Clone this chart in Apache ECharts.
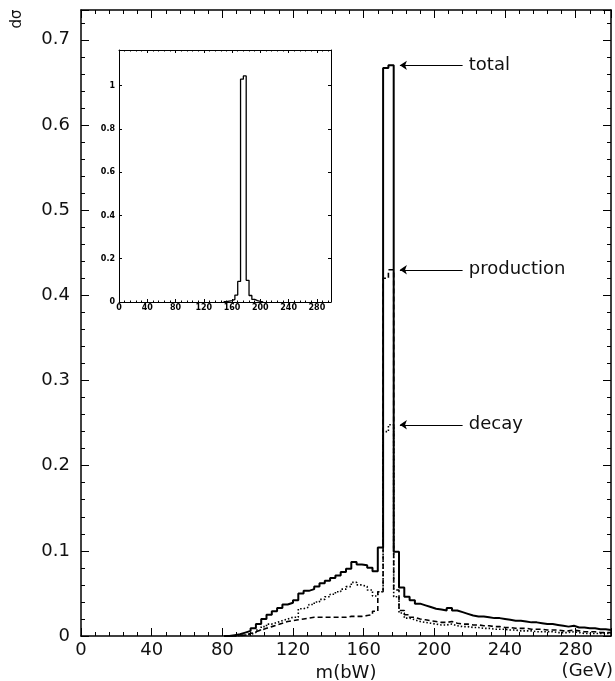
<!DOCTYPE html>
<html><head><meta charset="utf-8">
<script src="https://cdn.jsdelivr.net/npm/echarts@6/dist/echarts.min.js"></script>
<style>html,body{margin:0;padding:0;background:#fff;overflow:hidden}#c{width:615px;height:681px}</style>
</head><body><div id="c"></div>
<script>
// ---- main histogram: 3 GeV bins, lower edges (GeV)
const binEdges = [81,84,87,90,93,96,99,102,105,108,111,114,117,120,123,126,129,132,135,138,
  141,144,147,150,153,156,159,162,165,168,171,174,177,180,183,186,189,192,195,198,
  201,204,207,210,213,216,219,222,225,228,231,234,237,240,243,246,249,252,255,258,
  261,264,267,270,273,276,279,282,285,288,291,294,297];
const binWidth = 3;
const totalValues = [0,0.001,0.002,0.004,0.006,0.009,0.014,0.020,0.025,0.029,0.033,0.037,0.039,0.042,0.050,0.053,0.055,0.058,0.062,0.065,
  0.068,0.071,0.075,0.079,0.087,0.084,0.083,0.080,0.076,0.104,0.667,0.670,0.099,0.057,0.046,0.042,0.038,0.036,0.034,0.032,
  0.031,0.030,0.033,0.030,0.028,0.026,0.024,0.023,0.023,0.022,0.021,0.021,0.020,0.019,0.018,0.018,0.017,0.016,0.016,0.015,
  0.014,0.014,0.013,0.012,0.011,0.012,0.010,0.010,0.009,0.009,0.008,0.008,0.007];
const productionValues = [0,0,0.0005,0.001,0.003,0.005,0.007,0.009,0.011,0.013,0.015,0.017,0.018,0.019,0.020,0.021,0.022,0.022,0.022,0.022,
  0.022,0.022,0.022,0.023,0.023,0.023,0.024,0.025,0.029,0.052,0.420,0.430,0.054,0.030,0.025,0.022,0.020,0.019,0.018,0.017,
  0.016,0.016,0.017,0.015,0.014,0.014,0.013,0.013,0.012,0.012,0.011,0.011,0.010,0.010,0.009,0.009,0.009,0.008,0.008,0.008,
  0.007,0.007,0.007,0.006,0.006,0.007,0.006,0.005,0.005,0.005,0.004,0.004,0.004];
const decayValues = [0,0,0.0005,0.001,0.002,0.004,0.007,0.011,0.014,0.016,0.018,0.020,0.022,0.022,0.032,0.034,0.037,0.040,0.043,0.046,
  0.049,0.052,0.055,0.058,0.063,0.060,0.058,0.054,0.047,0.052,0.240,0.248,0.046,0.027,0.021,0.019,0.017,0.016,0.015,0.014,
  0.013,0.013,0.014,0.012,0.011,0.011,0.010,0.010,0.009,0.009,0.008,0.008,0.008,0.007,0.007,0.006,0.006,0.006,0.005,0.005,
  0.005,0.005,0.004,0.004,0.004,0.005,0.004,0.003,0.003,0.003,0.003,0.003,0.003];

// ---- inset histogram: 4 GeV bins
const insetEdges = [148,152,156,160,164,168,172,176,180,184,188,192,196,200];
const insetWidth = 4;
const insetTotal = [0.002,0.004,0.006,0.012,0.032,0.095,1.03,1.045,0.10,0.03,0.012,0.006,0.003,0.001];

// ---- annotations
const annotLabels = ['total','production','decay'];
const annotValues = [0.670, 0.430, 0.248];
const arrowFrom = 216, arrowTo = 180.5, annotTextX = 219.5;

function steps(edges, vals, w) {
  const pts = edges.map((e, i) => [e, vals[i]]);
  pts.push([edges[edges.length - 1] + w, vals[vals.length - 1]]);
  return pts;
}

const FONT = 'DejaVu Sans';
const BLK = '#000';
const chart = echarts.init(document.getElementById('c'), null, {renderer: 'canvas'});

function mainX(pos, labels) {
  return {
    type: 'value', gridIndex: 0, position: pos, min: 0, max: 300, interval: 40, z: 3,
    axisLine: {show: true, onZero: false, lineStyle: {color: BLK, width: 1.5}},
    axisTick: {show: true, inside: true, length: 8, lineStyle: {color: BLK, width: 1}},
    minorTick: {show: true, splitNumber: 5, length: 4, lineStyle: {color: BLK, width: 1}},
    splitLine: {show: false}, minorSplitLine: {show: false},
    axisLabel: {show: labels, margin: 5, fontFamily: FONT, fontSize: 18, color: '#111', showMaxLabel: false},
    name: labels ? 'm(bW)' : '', nameLocation: 'middle', nameGap: 27,
    nameTextStyle: {fontFamily: FONT, fontSize: 18, color: '#111'}
  };
}
function mainY(pos, labels) {
  return {
    type: 'value', gridIndex: 0, position: pos, min: 0, max: 0.735, interval: 0.1, z: 3,
    axisLine: {show: true, onZero: false, lineStyle: {color: BLK, width: 1.5}},
    axisTick: {show: true, inside: true, length: 8, lineStyle: {color: BLK, width: 1}},
    minorTick: {show: true, splitNumber: 5, length: 4, lineStyle: {color: BLK, width: 1}},
    splitLine: {show: false}, minorSplitLine: {show: false},
    axisLabel: {show: labels, margin: 11, fontFamily: FONT, fontSize: 18, color: '#111',
      formatter: v => v === 0 ? '0' : v.toFixed(1), showMaxLabel: false}
  };
}
function insetX(pos, labels) {
  return {
    type: 'value', gridIndex: 1, position: pos, min: 0, max: 300, interval: 40, z: 12,
    axisLine: {show: true, onZero: false, lineStyle: {color: BLK, width: 1}},
    axisTick: {show: true, inside: true, length: 3, lineStyle: {color: BLK, width: 1}},
    minorTick: {show: true, splitNumber: 5, length: 1.5, lineStyle: {color: BLK, width: 1}},
    splitLine: {show: false},
    axisLabel: {show: labels, margin: 2, fontFamily: FONT, fontSize: 8, fontWeight: 'bold', color: BLK, showMaxLabel: false}
  };
}
function insetY(pos, labels) {
  return {
    type: 'value', gridIndex: 1, position: pos, min: 0, max: 1.165, interval: 0.2, z: 12,
    axisLine: {show: true, onZero: false, lineStyle: {color: BLK, width: 1}},
    axisTick: {show: true, inside: true, length: 3, lineStyle: {color: BLK, width: 1}},
    splitLine: {show: false},
    axisLabel: {show: labels, margin: 4, fontFamily: FONT, fontSize: 8, fontWeight: 'bold', color: BLK,
      formatter: v => (v === 0 ? '0' : (Math.abs(v - 1) < 1e-9 ? '1' : v.toFixed(1))), showMaxLabel: false}
  };
}

const option = {
  backgroundColor: '#fff',
  animation: false,
  grid: [
    {left: 81, right: 4, top: 10, bottom: 45, containLabel: false, outerBoundsMode: 'none'},
    {left: 119, right: 284, top: 50, bottom: 379, containLabel: false, outerBoundsMode: 'none',
     show: true, backgroundColor: '#fff', borderWidth: 0}
  ],
  xAxis: [mainX('bottom', true), mainX('top', false), insetX('bottom', true), insetX('top', false)],
  yAxis: [mainY('left', true), mainY('right', false), insetY('left', true), insetY('right', false)],
  series: [
    {
      name: 'production', type: 'line', xAxisIndex: 0, yAxisIndex: 0, step: 'end',
      showSymbol: false, symbol: 'none', data: steps(binEdges, productionValues, binWidth),
      lineStyle: {color: BLK, width: 1.6, type: [5, 3]}, z: 3
    },
    {
      name: 'decay', type: 'line', xAxisIndex: 0, yAxisIndex: 0, step: 'end',
      showSymbol: false, symbol: 'none', data: steps(binEdges, decayValues, binWidth),
      lineStyle: {color: BLK, width: 1.6, type: [1.5, 2]}, z: 3
    },
    {
      name: 'total', type: 'line', xAxisIndex: 0, yAxisIndex: 0, step: 'end',
      showSymbol: false, symbol: 'none', data: steps(binEdges, totalValues, binWidth),
      lineStyle: {color: BLK, width: 2}, z: 4,
      markLine: {
        silent: true, symbol: ['none', 'arrow'], symbolSize: 7, animation: false,
        label: {show: false},
        lineStyle: {color: BLK, width: 1, type: 'solid'},
        data: annotValues.map(v => [{coord: [arrowFrom, v]}, {coord: [arrowTo, v]}])
      }
    },
    {
      name: 'inset', type: 'line', xAxisIndex: 2, yAxisIndex: 2, step: 'end',
      showSymbol: false, symbol: 'none', data: steps(insetEdges, insetTotal, insetWidth),
      lineStyle: {color: BLK, width: 1.3}, z: 6
    }
  ]
};
chart.setOption(option);

const texts = annotLabels.map((t, i) => {
  const p = chart.convertToPixel({gridIndex: 0}, [annotTextX, annotValues[i]]);
  return {type: 'text', x: p[0], y: p[1], z: 10,
    style: {text: t, fontFamily: FONT, fontSize: 18, fill: '#111', textAlign: 'left', textVerticalAlign: 'middle'}};
});
texts.push({type: 'text', x: 17, y: 19, rotation: Math.PI / 2, z: 10,
  style: {text: 'dσ', fontFamily: FONT, fontSize: 15, fill: '#111', textAlign: 'center', textVerticalAlign: 'middle'}});
texts.push({type: 'text', x: 613, y: 671, z: 10,
  style: {text: '(GeV)', fontFamily: FONT, fontSize: 18, fill: '#111', textAlign: 'right', textVerticalAlign: 'middle'}});
chart.setOption({graphic: texts});
</script></body></html>
